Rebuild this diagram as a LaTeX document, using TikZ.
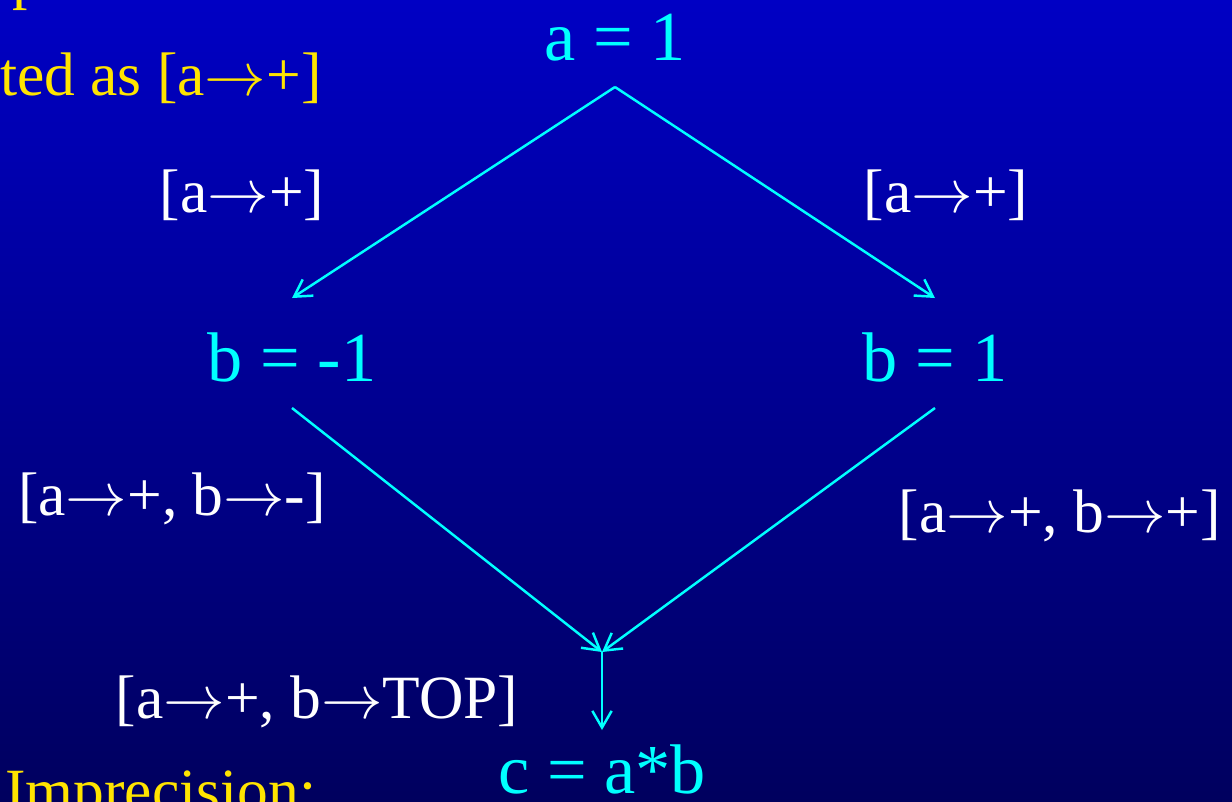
\RequirePackage{fix-cm}
\documentclass[tikz,border=0pt]{standalone}
\usepackage{fontspec}
\setmainfont{Liberation Serif}
\usetikzlibrary{arrows.meta}
\definecolor{slidetop}{RGB}{0,0,196}
\definecolor{slidebot}{RGB}{0,0,94}
\definecolor{stmtcyan}{RGB}{0,255,255}
\definecolor{slideyellow}{RGB}{255,228,0}
\newcommand{\mapsarrow}{\ensuremath{\rightarrow}}
\tikzset{
  stmt/.style={text=stmtcyan, font=\fontsize{40}{48}\selectfont, inner sep=0pt, anchor=base},
  fact/.style={text=white, font=\fontsize{35}{42}\selectfont, inner sep=0pt, anchor=base},
  remark/.style={text=slideyellow, font=\fontsize{35}{42}\selectfont, inner sep=0pt},
  flow/.style={draw=stmtcyan, line width=1.4pt, -{Straight Barb[length=9.5pt,width=11pt]}},
}
\begin{document}
\begin{tikzpicture}[x=0.02cm, y=-0.02cm]
  % slide background
  \shade[top color=slidetop, bottom color=slidebot] (0,0) rectangle (1232,802);
  \useasboundingbox (0,0) rectangle (1232,802);
  \clip (0,0) rectangle (1232,802);
  % yellow slide text, cut by the frame
  \node[remark, anchor=base west] (ptail) at (12,-2.5) {p};
  \node[remark, anchor=base east] (given) at (322,95) {ted as [a\mapsarrow+]};
  \node[remark, anchor=base west] (imprec) at (5,811) {Imprecision:};
  % statements
  \node[stmt] (a1) at (615,60) {a = 1};
  \node[stmt] (bm) at (292,381) {b = -1};
  \node[stmt] (bp) at (935,381) {b = 1};
  \node[stmt] (c) at (602,793) {c = a*b};
  \coordinate (meet) at (602,652);
  % facts on the edges
  \node[fact] (la) at (242,212) {[a\mapsarrow+]};
  \node[fact] (ra) at (946,212) {[a\mapsarrow+]};
  \node[fact] (lb) at (172,515) {[a\mapsarrow+, b\mapsarrow-]};
  \node[fact] (rb) at (1060,532) {[a\mapsarrow+, b\mapsarrow+]};
  \node[fact] (tb) at (317,718) {[a\mapsarrow+, b\mapsarrow TOP]};
  % edges
  \draw[flow] ([yshift=-0.54cm]a1.base) -- ([yshift=1.66cm]bm.base);
  \draw[flow] ([yshift=-0.54cm]a1.base) -- ([yshift=1.66cm]bp.base);
  \draw[flow] ([yshift=-0.54cm]bm.base) -- (meet);
  \draw[flow] ([yshift=-0.54cm]bp.base) -- (meet);
  \draw[flow] (meet) -- ([yshift=1.26cm]c.base);
\end{tikzpicture}
\end{document}
